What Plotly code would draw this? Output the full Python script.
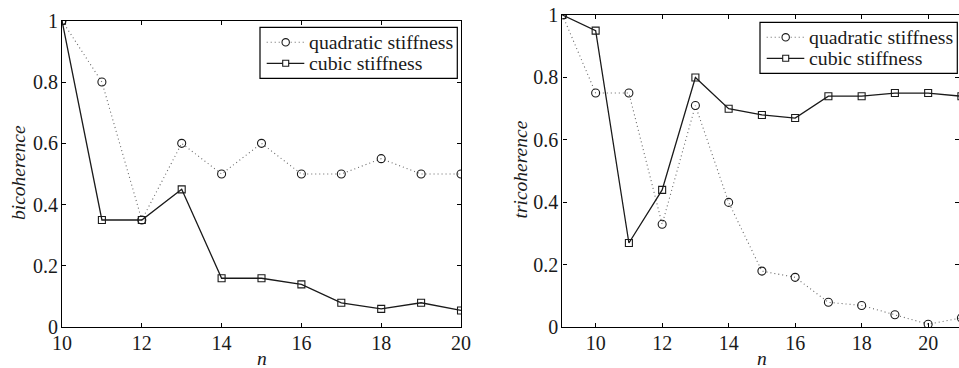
import plotly.graph_objects as go

# harmonic index n and coherence values
n_bi = [10, 11, 12, 13, 14, 15, 16, 17, 18, 19, 20]
bi_quadratic = [1.0, 0.80, 0.35, 0.60, 0.50, 0.60, 0.50, 0.50, 0.55, 0.50, 0.50]
bi_cubic = [1.0, 0.35, 0.35, 0.45, 0.16, 0.16, 0.14, 0.08, 0.06, 0.08, 0.055]

n_tri = [9, 10, 11, 12, 13, 14, 15, 16, 17, 18, 19, 20, 21]
tri_quadratic = [1.0, 0.75, 0.75, 0.33, 0.71, 0.40, 0.18, 0.16, 0.08, 0.07, 0.04, 0.01, 0.03]
tri_cubic = [1.0, 0.95, 0.27, 0.44, 0.80, 0.70, 0.68, 0.67, 0.74, 0.74, 0.75, 0.75, 0.74]

series_names = ["quadratic stiffness", "cubic stiffness"]
x_ticks = [10, 12, 14, 16, 18, 20]
y_ticks = [0, 0.2, 0.4, 0.6, 0.8, 1]

FONT = "Liberation Serif"
W, H = 959, 368
INK = "#1a1a1a"


def fx(px):
    return px / W


def fy(py):
    return 1 - py / H


quad_line = dict(color="#666666", width=1.1, dash="1px,3px")
quad_marker = dict(symbol="circle-open", size=8, color=INK, line=dict(width=1.1))
cub_line = dict(color=INK, width=1.3)
cub_marker = dict(symbol="square-open", size=7, color=INK, line=dict(width=1.1))

fig = go.Figure()

for xs, q, c, xa, ya in [(n_bi, bi_quadratic, bi_cubic, "x", "y"),
                         (n_tri, tri_quadratic, tri_cubic, "x2", "y2")]:
    fig.add_trace(go.Scatter(x=xs, y=q, name=series_names[0], mode="lines+markers",
                             line=quad_line, marker=quad_marker, xaxis=xa, yaxis=ya,
                             showlegend=False))
    fig.add_trace(go.Scatter(x=xs, y=c, name=series_names[1], mode="lines+markers",
                             line=cub_line, marker=cub_marker, xaxis=xa, yaxis=ya,
                             showlegend=False))

# empty trace carrying the right-hand tick axis of the second panel
fig.add_trace(go.Scatter(x=[], y=[], xaxis="x2", yaxis="y3", showlegend=False,
                         hoverinfo="skip"))

axis_common = dict(
    showgrid=False, zeroline=False, showline=True, linecolor="black", linewidth=1.2,
    ticks="inside", ticklen=4, tickcolor="black", tickwidth=1, automargin=False,
    tickfont=dict(family=FONT, size=20, color=INK),
)

left_x = [fx(62), fx(461)]
right_x0 = 562.4
px_per_unit = 33.25
right_xmax = 9 + (W - right_x0) / px_per_unit

fig.update_layout(
    width=W, height=H,
    margin=dict(l=0, r=0, t=0, b=0, pad=0, autoexpand=False),
    paper_bgcolor="white", plot_bgcolor="white",
    font=dict(family=FONT, size=20, color=INK),
    showlegend=False,
    xaxis=dict(domain=left_x, range=[10, 20], tickvals=x_ticks, mirror="ticks",
               anchor="y", ticklabelstandoff=-2, **axis_common),
    yaxis=dict(domain=[fy(327.3), fy(20.7)], range=[0, 1], ticklabelstandoff=-1,
               tickvals=y_ticks, mirror="ticks", anchor="x", **axis_common),
    xaxis2=dict(domain=[fx(right_x0), 1.0], range=[9, right_xmax], tickvals=x_ticks,
                mirror="ticks", anchor="y2", ticklabelstandoff=-2, **axis_common),
    yaxis2=dict(domain=[fy(327.3), fy(15)], range=[0, 1], ticklabelstandoff=-1,
                tickvals=y_ticks, mirror=False, anchor="x2", **axis_common),
    yaxis3=dict(overlaying="y2", matches="y2", side="right", anchor="x2",
                range=[0, 1], tickvals=y_ticks, showticklabels=False,
                showgrid=False, zeroline=False, showline=False, automargin=False,
                ticks="inside", ticklen=4, tickcolor="black", tickwidth=1),
)

# legend boxes: (left, top, right, bottom) in pixels
legend_boxes = [(260, 27.3, 457.3, 78.3), (760, 22.3, 957.3, 73.3)]
for (l, t, r, b) in legend_boxes:
    fig.add_shape(type="rect", xref="paper", yref="paper",
                  x0=fx(l), x1=fx(r), y0=fy(b), y1=fy(t),
                  line=dict(color="black", width=1.2), fillcolor="white", layer="above")
    rows = [t + 15, t + 36]
    styles = [(quad_line, "circle"), (cub_line, "square")]
    for name, yy, (ln, sym) in zip(series_names, rows, styles):
        fig.add_shape(type="line", xref="paper", yref="paper",
                      x0=fx(l + 6.7), x1=fx(l + 44.3), y0=fy(yy), y1=fy(yy),
                      line=ln, layer="above")
        cx = l + 25.7
        if sym == "circle":
            rr = 3.7
            fig.add_shape(type="circle", xref="paper", yref="paper",
                          x0=fx(cx - rr), x1=fx(cx + rr), y0=fy(yy + rr), y1=fy(yy - rr),
                          line=dict(color=INK, width=1.1), fillcolor="white", layer="above")
        else:
            rr = 3.0
            fig.add_shape(type="rect", xref="paper", yref="paper",
                          x0=fx(cx - rr), x1=fx(cx + rr), y0=fy(yy + rr), y1=fy(yy - rr),
                          line=dict(color=INK, width=1.1), fillcolor="white", layer="above")
        fig.add_annotation(text=name, x=fx(l + 46.5), y=fy(yy), xref="paper", yref="paper",
                           xanchor="left", yanchor="middle", showarrow=False,
                           font=dict(family=FONT, size=19.8, color=INK))

title_font = dict(family=FONT, size=19.5, color=INK)
for text, xc, yc, angle in [
    ("<i>n</i>", (62 + 461) / 2, 358, 0),
    ("<i>n</i>", (562.4 + 961) / 2, 358, 0),
    ("<i>bicoherence</i>", 18.5, 172.5, -90),
    ("<i>tricoherence</i>", 520.5, 170, -90),
]:
    fig.add_annotation(text=text, x=fx(xc), y=fy(yc), xref="paper", yref="paper",
                       xanchor="center", yanchor="middle", showarrow=False,
                       textangle=angle, font=title_font)

fig.write_html("out.html")
